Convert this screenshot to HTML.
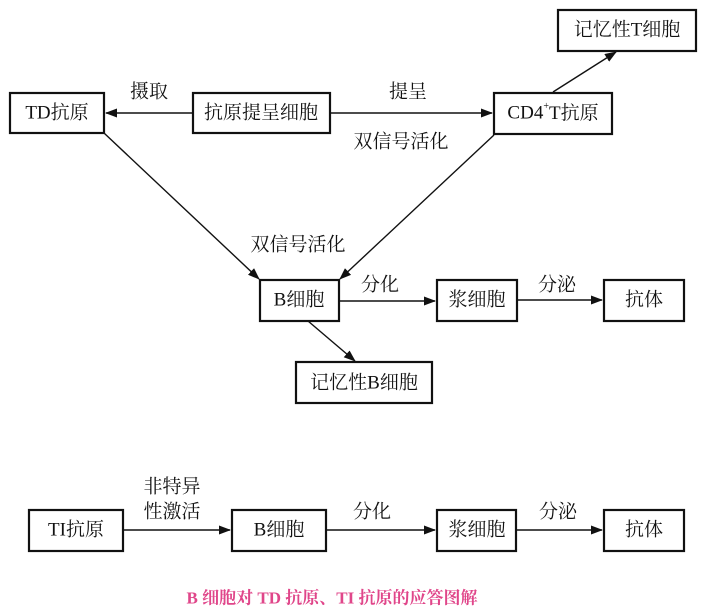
<!DOCTYPE html>
<html><head><meta charset="utf-8"><style>
html,body{margin:0;padding:0;background:#fff;}
svg{display:block;}
text{font-family:"Liberation Serif","Noto Serif CJK SC",serif;font-size:19px;fill:#111;}
</style></head><body>
<svg width="706" height="616" viewBox="0 0 706 616" xmlns="http://www.w3.org/2000/svg">
<defs><marker id="a" markerWidth="12" markerHeight="9" refX="11" refY="4.5" orient="auto" markerUnits="userSpaceOnUse"><path d="M0,0 L12,4.5 L0,9 z" fill="#111"/></marker></defs>
<g fill="none" stroke="#111" stroke-width="2.2">
<rect x="10" y="93" width="94" height="40"/>
<rect x="193" y="93" width="137" height="40"/>
<rect x="494" y="93" width="118" height="41"/>
<rect x="558" y="10" width="138" height="41"/>
<rect x="260" y="280" width="79" height="41"/>
<rect x="437" y="280" width="80" height="41"/>
<rect x="604" y="280" width="80" height="41"/>
<rect x="296" y="362" width="136" height="41"/>
<rect x="29" y="510" width="94" height="41"/>
<rect x="232" y="510" width="94" height="41"/>
<rect x="437" y="510" width="79" height="41"/>
<rect x="604" y="510" width="80" height="41"/>
</g>
<g stroke="#111" stroke-width="1.4" marker-end="url(#a)">
<line x1="193" y1="113" x2="106" y2="113"/>
<line x1="330" y1="113" x2="492" y2="113"/>
<line x1="553" y1="92" x2="616" y2="52"/>
<line x1="104" y1="133" x2="259" y2="279"/>
<line x1="494" y1="135" x2="340" y2="279"/>
<line x1="339" y1="301" x2="435" y2="301"/>
<line x1="517" y1="300" x2="602" y2="300"/>
<line x1="308" y1="321" x2="355" y2="361"/>
<line x1="123" y1="530" x2="230" y2="530"/>
<line x1="326" y1="530" x2="435" y2="530"/>
<line x1="516" y1="530" x2="602" y2="530"/>
</g>
<g text-anchor="middle" dominant-baseline="central">
<text x="57" y="113">TD抗原</text>
<text x="261" y="113">抗原提呈细胞</text>
<text x="553" y="113">CD4<tspan dy="-7" font-size="10">+</tspan><tspan dy="7">T抗原</tspan></text>
<text x="627" y="30">记忆性T细胞</text>
<text x="299" y="300">B细胞</text>
<text x="477" y="300">浆细胞</text>
<text x="644" y="300">抗体</text>
<text x="364" y="383">记忆性B细胞</text>
<text x="149" y="92">摄取</text>
<text x="408" y="92">提呈</text>
<text x="401" y="142">双信号活化</text>
<text x="298" y="245">双信号活化</text>
<text x="380" y="285">分化</text>
<text x="557" y="285">分泌</text>
<text x="76" y="530">TI抗原</text>
<text x="279" y="530">B细胞</text>
<text x="477" y="530">浆细胞</text>
<text x="644" y="530">抗体</text>
<text x="172" y="487">非特异</text>
<text x="172" y="512">性激活</text>
<text x="372" y="512">分化</text>
<text x="558" y="512">分泌</text>
<text x="332" y="598" style="fill:#e0468a;font-weight:bold;font-size:17px">B 细胞对 TD 抗原、TI 抗原的应答图解</text>
</g>
</svg>
</body></html>
